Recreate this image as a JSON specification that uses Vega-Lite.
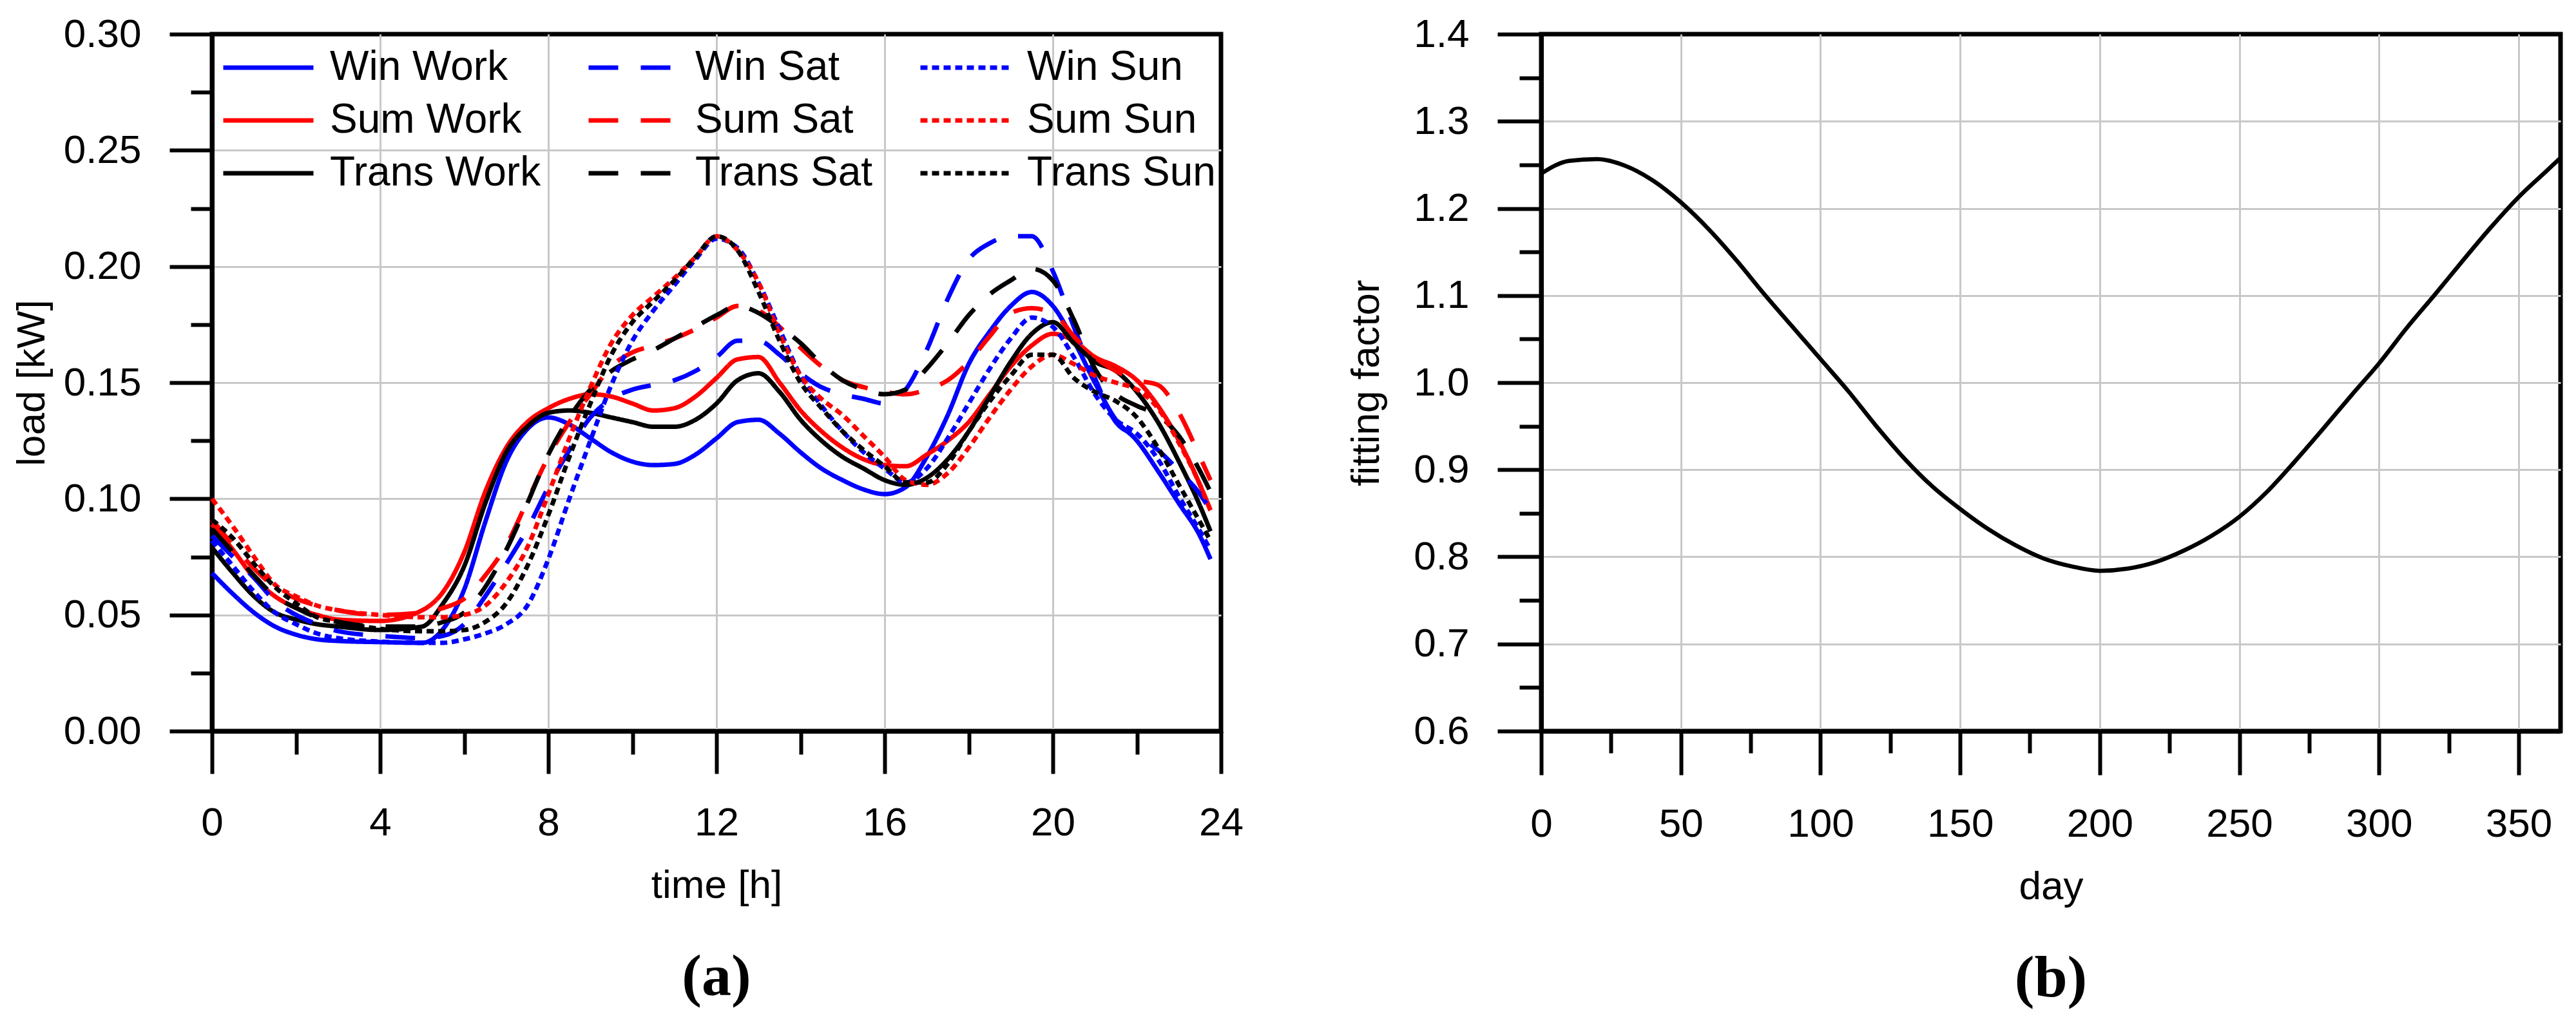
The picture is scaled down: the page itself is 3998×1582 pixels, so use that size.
{
  "$schema": "https://vega.github.io/schema/vega-lite/v6.json",
  "background": "white",
  "padding": {"left": 14, "top": 18, "right": 0, "bottom": 0},
  "spacing": 153,
  "config": {
    "font": "Liberation Sans",
    "view": {"stroke": "black", "strokeWidth": 7},
    "axis": {
      "domainColor": "black",
      "domainWidth": 7,
      "tickColor": "black",
      "tickWidth": 6,
      "labelFont": "Liberation Sans",
      "labelFontSize": 62,
      "labelColor": "black",
      "labelFlush": false,
      "labelOverlap": false,
      "labelPadding": 44,
      "titleFont": "Liberation Sans",
      "titleFontSize": 62,
      "titleFontWeight": "normal",
      "titleColor": "black",
      "gridColor": "#c8c8c8",
      "gridWidth": 3
    },
    "title": {"font": "Liberation Serif", "fontWeight": "bold", "fontSize": 92, "color": "black"}
  },
  "hconcat": [
    {
      "width": 1566,
      "height": 1082,
      "title": {"text": "(a)", "orient": "bottom", "offset": 67},
      "data": {
        "values": [
          {"t": 0, "Win Work": 0.068, "Sum Work": 0.089, "Trans Work": 0.079, "Win Sat": 0.084, "Sum Sat": 0.091, "Trans Sat": 0.087, "Win Sun": 0.082, "Sum Sun": 0.100, "Trans Sun": 0.091},
          {"t": 0.5, "Win Work": 0.059, "Sum Work": 0.078, "Trans Work": 0.068, "Win Sat": 0.075, "Sum Sat": 0.080, "Trans Sat": 0.077, "Win Sun": 0.071, "Sum Sun": 0.088, "Trans Sun": 0.083},
          {"t": 1, "Win Work": 0.051, "Sum Work": 0.066, "Trans Work": 0.058, "Win Sat": 0.066, "Sum Sat": 0.070, "Trans Sat": 0.067, "Win Sun": 0.060, "Sum Sun": 0.075, "Trans Sun": 0.072},
          {"t": 1.5, "Win Work": 0.045, "Sum Work": 0.058, "Trans Work": 0.051, "Win Sat": 0.056, "Sum Sat": 0.062, "Trans Sat": 0.058, "Win Sun": 0.051, "Sum Sun": 0.063, "Trans Sun": 0.062},
          {"t": 2, "Win Work": 0.0415, "Sum Work": 0.053, "Trans Work": 0.048, "Win Sat": 0.050, "Sum Sat": 0.057, "Trans Sat": 0.053, "Win Sun": 0.046, "Sum Sun": 0.058, "Trans Sun": 0.055},
          {"t": 2.5, "Win Work": 0.0395, "Sum Work": 0.050, "Trans Work": 0.046, "Win Sat": 0.046, "Sum Sat": 0.054, "Trans Sat": 0.049, "Win Sun": 0.042, "Sum Sun": 0.054, "Trans Sun": 0.049},
          {"t": 3, "Win Work": 0.0388, "Sum Work": 0.048, "Trans Work": 0.045, "Win Sat": 0.043, "Sum Sat": 0.052, "Trans Sat": 0.047, "Win Sun": 0.040, "Sum Sun": 0.052, "Trans Sun": 0.047},
          {"t": 4, "Win Work": 0.0383, "Sum Work": 0.0474, "Trans Work": 0.0435, "Win Sat": 0.041, "Sum Sat": 0.050, "Trans Sat": 0.045, "Win Sun": 0.0385, "Sum Sun": 0.050, "Trans Sun": 0.044},
          {"t": 5, "Win Work": 0.038, "Sum Work": 0.052, "Trans Work": 0.045, "Win Sat": 0.040, "Sum Sat": 0.051, "Trans Sat": 0.045, "Win Sun": 0.038, "Sum Sun": 0.049, "Trans Sun": 0.043},
          {"t": 5.5, "Win Work": 0.044, "Sum Work": 0.060, "Trans Work": 0.055, "Win Sat": 0.041, "Sum Sat": 0.053, "Trans Sat": 0.047, "Win Sun": 0.038, "Sum Sun": 0.049, "Trans Sun": 0.043},
          {"t": 6, "Win Work": 0.061, "Sum Work": 0.077, "Trans Work": 0.071, "Win Sat": 0.046, "Sum Sat": 0.057, "Trans Sat": 0.051, "Win Sun": 0.0395, "Sum Sun": 0.050, "Trans Sun": 0.0435},
          {"t": 6.5, "Win Work": 0.090, "Sum Work": 0.103, "Trans Work": 0.098, "Win Sat": 0.058, "Sum Sat": 0.067, "Trans Sat": 0.062, "Win Sun": 0.042, "Sum Sun": 0.054, "Trans Sun": 0.047},
          {"t": 7, "Win Work": 0.116, "Sum Work": 0.122, "Trans Work": 0.120, "Win Sat": 0.072, "Sum Sat": 0.080, "Trans Sat": 0.078, "Win Sun": 0.046, "Sum Sun": 0.064, "Trans Sun": 0.055},
          {"t": 7.5, "Win Work": 0.130, "Sum Work": 0.133, "Trans Work": 0.131, "Win Sat": 0.087, "Sum Sat": 0.099, "Trans Sat": 0.098, "Win Sun": 0.054, "Sum Sun": 0.079, "Trans Sun": 0.071},
          {"t": 8, "Win Work": 0.135, "Sum Work": 0.139, "Trans Work": 0.137, "Win Sat": 0.105, "Sum Sat": 0.118, "Trans Sat": 0.119, "Win Sun": 0.074, "Sum Sun": 0.102, "Trans Sun": 0.093},
          {"t": 8.5, "Win Work": 0.132, "Sum Work": 0.143, "Trans Work": 0.138, "Win Sat": 0.121, "Sum Sat": 0.133, "Trans Sat": 0.135, "Win Sun": 0.100, "Sum Sun": 0.126, "Trans Sun": 0.118},
          {"t": 9, "Win Work": 0.126, "Sum Work": 0.145, "Trans Work": 0.137, "Win Sat": 0.135, "Sum Sat": 0.145, "Trans Sat": 0.147, "Win Sun": 0.125, "Sum Sun": 0.148, "Trans Sun": 0.141},
          {"t": 9.5, "Win Work": 0.120, "Sum Work": 0.144, "Trans Work": 0.135, "Win Sat": 0.143, "Sum Sat": 0.157, "Trans Sat": 0.155, "Win Sun": 0.149, "Sum Sun": 0.167, "Trans Sun": 0.162},
          {"t": 10, "Win Work": 0.116, "Sum Work": 0.141, "Trans Work": 0.133, "Win Sat": 0.147, "Sum Sat": 0.163, "Trans Sat": 0.160, "Win Sun": 0.168, "Sum Sun": 0.179, "Trans Sun": 0.176},
          {"t": 10.5, "Win Work": 0.1145, "Sum Work": 0.138, "Trans Work": 0.131, "Win Sat": 0.149, "Sum Sat": 0.166, "Trans Sat": 0.164, "Win Sun": 0.181, "Sum Sun": 0.187, "Trans Sun": 0.185},
          {"t": 11, "Win Work": 0.115, "Sum Work": 0.139, "Trans Work": 0.131, "Win Sat": 0.151, "Sum Sat": 0.169, "Trans Sat": 0.169, "Win Sun": 0.192, "Sum Sun": 0.195, "Trans Sun": 0.194},
          {"t": 11.5, "Win Work": 0.119, "Sum Work": 0.144, "Trans Work": 0.134, "Win Sat": 0.155, "Sum Sat": 0.173, "Trans Sat": 0.174, "Win Sun": 0.203, "Sum Sun": 0.204, "Trans Sun": 0.204},
          {"t": 12, "Win Work": 0.126, "Sum Work": 0.152, "Trans Work": 0.141, "Win Sat": 0.161, "Sum Sat": 0.178, "Trans Sat": 0.179, "Win Sun": 0.212, "Sum Sun": 0.213, "Trans Sun": 0.213},
          {"t": 12.5, "Win Work": 0.133, "Sum Work": 0.160, "Trans Work": 0.151, "Win Sat": 0.168, "Sum Sat": 0.183, "Trans Sat": 0.183, "Win Sun": 0.208, "Sum Sun": 0.207, "Trans Sun": 0.207},
          {"t": 13, "Win Work": 0.134, "Sum Work": 0.161, "Trans Work": 0.154, "Win Sat": 0.168, "Sum Sat": 0.181, "Trans Sat": 0.180, "Win Sun": 0.193, "Sum Sun": 0.193, "Trans Sun": 0.189},
          {"t": 13.5, "Win Work": 0.128, "Sum Work": 0.150, "Trans Work": 0.146, "Win Sat": 0.162, "Sum Sat": 0.174, "Trans Sat": 0.174, "Win Sun": 0.173, "Sum Sun": 0.171, "Trans Sun": 0.168},
          {"t": 14, "Win Work": 0.120, "Sum Work": 0.138, "Trans Work": 0.134, "Win Sat": 0.154, "Sum Sat": 0.165, "Trans Sat": 0.167, "Win Sun": 0.153, "Sum Sun": 0.153, "Trans Sun": 0.150},
          {"t": 14.5, "Win Work": 0.113, "Sum Work": 0.129, "Trans Work": 0.125, "Win Sat": 0.148, "Sum Sat": 0.157, "Trans Sat": 0.158, "Win Sun": 0.140, "Sum Sun": 0.143, "Trans Sun": 0.139},
          {"t": 15, "Win Work": 0.108, "Sum Work": 0.122, "Trans Work": 0.118, "Win Sat": 0.145, "Sum Sat": 0.151, "Trans Sat": 0.151, "Win Sun": 0.129, "Sum Sun": 0.136, "Trans Sun": 0.129},
          {"t": 15.5, "Win Work": 0.104, "Sum Work": 0.117, "Trans Work": 0.113, "Win Sat": 0.143, "Sum Sat": 0.148, "Trans Sat": 0.147, "Win Sun": 0.120, "Sum Sun": 0.127, "Trans Sun": 0.121},
          {"t": 16, "Win Work": 0.102, "Sum Work": 0.1145, "Trans Work": 0.108, "Win Sat": 0.141, "Sum Sat": 0.146, "Trans Sat": 0.145, "Win Sun": 0.113, "Sum Sun": 0.118, "Trans Sun": 0.114},
          {"t": 16.5, "Win Work": 0.105, "Sum Work": 0.114, "Trans Work": 0.106, "Win Sat": 0.147, "Sum Sat": 0.145, "Trans Sat": 0.147, "Win Sun": 0.107, "Sum Sun": 0.108, "Trans Sun": 0.107},
          {"t": 17, "Win Work": 0.118, "Sum Work": 0.119, "Trans Work": 0.109, "Win Sat": 0.164, "Sum Sat": 0.147, "Trans Sat": 0.156, "Win Sun": 0.113, "Sum Sun": 0.106, "Trans Sun": 0.107},
          {"t": 17.5, "Win Work": 0.136, "Sum Work": 0.125, "Trans Work": 0.117, "Win Sat": 0.186, "Sum Sat": 0.151, "Trans Sat": 0.167, "Win Sun": 0.126, "Sum Sun": 0.111, "Trans Sun": 0.115},
          {"t": 18, "Win Work": 0.158, "Sum Work": 0.133, "Trans Work": 0.129, "Win Sat": 0.203, "Sum Sat": 0.159, "Trans Sat": 0.179, "Win Sun": 0.141, "Sum Sun": 0.122, "Trans Sun": 0.129},
          {"t": 18.5, "Win Work": 0.172, "Sum Work": 0.145, "Trans Work": 0.144, "Win Sat": 0.210, "Sum Sat": 0.170, "Trans Sat": 0.188, "Win Sun": 0.156, "Sum Sun": 0.135, "Trans Sun": 0.142},
          {"t": 19, "Win Work": 0.183, "Sum Work": 0.157, "Trans Work": 0.159, "Win Sat": 0.213, "Sum Sat": 0.180, "Trans Sat": 0.194, "Win Sun": 0.169, "Sum Sun": 0.147, "Trans Sun": 0.153},
          {"t": 19.5, "Win Work": 0.189, "Sum Work": 0.166, "Trans Work": 0.171, "Win Sat": 0.213, "Sum Sat": 0.182, "Trans Sat": 0.199, "Win Sun": 0.178, "Sum Sun": 0.157, "Trans Sun": 0.162},
          {"t": 20, "Win Work": 0.183, "Sum Work": 0.171, "Trans Work": 0.176, "Win Sat": 0.198, "Sum Sat": 0.180, "Trans Sat": 0.194, "Win Sun": 0.174, "Sum Sun": 0.162, "Trans Sun": 0.162},
          {"t": 20.5, "Win Work": 0.168, "Sum Work": 0.168, "Trans Work": 0.167, "Win Sat": 0.174, "Sum Sat": 0.170, "Trans Sat": 0.177, "Win Sun": 0.161, "Sum Sun": 0.158, "Trans Sun": 0.152},
          {"t": 21, "Win Work": 0.150, "Sum Work": 0.161, "Trans Work": 0.159, "Win Sat": 0.152, "Sum Sat": 0.161, "Trans Sat": 0.156, "Win Sun": 0.145, "Sum Sun": 0.153, "Trans Sun": 0.146},
          {"t": 21.5, "Win Work": 0.134, "Sum Work": 0.157, "Trans Work": 0.155, "Win Sat": 0.133, "Sum Sat": 0.155, "Trans Sat": 0.145, "Win Sun": 0.134, "Sum Sun": 0.150, "Trans Sun": 0.142},
          {"t": 22, "Win Work": 0.125, "Sum Work": 0.151, "Trans Work": 0.146, "Win Sat": 0.127, "Sum Sat": 0.151, "Trans Sat": 0.140, "Win Sun": 0.128, "Sum Sun": 0.147, "Trans Sun": 0.135},
          {"t": 22.5, "Win Work": 0.112, "Sum Work": 0.140, "Trans Work": 0.133, "Win Sat": 0.121, "Sum Sat": 0.149, "Trans Sat": 0.136, "Win Sun": 0.117, "Sum Sun": 0.139, "Trans Sun": 0.122},
          {"t": 23, "Win Work": 0.098, "Sum Work": 0.125, "Trans Work": 0.116, "Win Sat": 0.112, "Sum Sat": 0.137, "Trans Sat": 0.127, "Win Sun": 0.101, "Sum Sun": 0.124, "Trans Sun": 0.106},
          {"t": 23.5, "Win Work": 0.084, "Sum Work": 0.106, "Trans Work": 0.097, "Win Sat": 0.102, "Sum Sat": 0.118, "Trans Sat": 0.112, "Win Sun": 0.086, "Sum Sun": 0.106, "Trans Sun": 0.090},
          {"t": 23.75, "Win Work": 0.074, "Sum Work": 0.095, "Trans Work": 0.086, "Win Sat": 0.095, "Sum Sat": 0.108, "Trans Sat": 0.103, "Win Sun": 0.078, "Sum Sun": 0.095, "Trans Sun": 0.082}
        ]
      },
      "transform": [
        {
          "fold": ["Win Work", "Sum Work", "Trans Work", "Win Sat", "Sum Sat", "Trans Sat", "Win Sun", "Sum Sun", "Trans Sun"],
          "as": ["series", "load"]
        }
      ],
      "mark": {"type": "line", "interpolate": "monotone", "strokeWidth": 7, "strokeCap": "butt"},
      "encoding": {
        "x": {
          "field": "t",
          "type": "quantitative",
          "scale": {"domain": [0, 24], "nice": false},
          "axis": {
            "title": "time [h]",
            "values": [0, 2, 4, 6, 8, 10, 12, 14, 16, 18, 20, 22, 24],
            "labelExpr": "datum.value % 4 == 0 ? datum.label : ''",
            "tickSize": {"condition": {"test": "datum.value % 4 == 0", "value": 66}, "value": 36},
            "grid": true,
            "gridOpacity": {"condition": {"test": "datum.value % 4 == 0 && datum.value > 0 && datum.value < 24", "value": 1}, "value": 0},
            "labelPadding": 46,
            "titlePadding": 36
          }
        },
        "y": {
          "field": "load",
          "type": "quantitative",
          "scale": {"domain": [0, 0.3], "nice": false, "zero": false},
          "axis": {
            "title": "load [kW]",
            "values": [0, 0.025, 0.05, 0.075, 0.1, 0.125, 0.15, 0.175, 0.2, 0.225, 0.25, 0.275, 0.3],
            "labelExpr": "round(datum.value * 1000) % 50 == 0 ? format(datum.value, '.2f') : ''",
            "tickSize": {"condition": {"test": "round(datum.value * 1000) % 50 == 0", "value": 66}, "value": 33},
            "grid": true,
            "gridOpacity": {"condition": {"test": "round(datum.value * 1000) % 50 == 0 && datum.value > 0 && datum.value < 0.29", "value": 1}, "value": 0},
            "titlePadding": 48
          }
        },
        "color": {
          "field": "series",
          "type": "nominal",
          "scale": {
            "domain": ["Win Work", "Sum Work", "Trans Work", "Win Sat", "Sum Sat", "Trans Sat", "Win Sun", "Sum Sun", "Trans Sun"],
            "range": ["#0000ff", "#ff0000", "#000000", "#0000ff", "#ff0000", "#000000", "#0000ff", "#ff0000", "#000000"]
          },
          "legend": {
            "title": null, "orient": "none", "legendX": 14, "legendY": 20,
            "columns": 3, "columnPadding": 70, "rowPadding": 18, "padding": 0, "clipHeight": 64,
            "symbolType": "stroke", "symbolSize": 19600, "symbolStrokeWidth": 7,
            "labelFont": "Liberation Sans", "labelFontSize": 64, "labelColor": "black", "labelOffset": 22, "labelLimit": 0
          }
        },
        "strokeDash": {
          "field": "series",
          "type": "nominal",
          "scale": {
            "domain": ["Win Work", "Sum Work", "Trans Work", "Win Sat", "Sum Sat", "Trans Sat", "Win Sun", "Sum Sun", "Trans Sun"],
            "range": [[1, 0], [1, 0], [1, 0], [46, 35], [46, 35], [46, 35], [11, 7], [11, 7], [11, 7]]
          },
          "legend": {
            "title": null, "orient": "none", "legendX": 14, "legendY": 20,
            "columns": 3, "columnPadding": 70, "rowPadding": 18, "padding": 0, "clipHeight": 64,
            "symbolType": "stroke", "symbolSize": 19600, "symbolStrokeWidth": 7,
            "labelFont": "Liberation Sans", "labelFontSize": 64, "labelColor": "black", "labelOffset": 22, "labelLimit": 0
          }
        }
      }
    },
    {
      "width": 1582,
      "height": 1082,
      "title": {"text": "(b)", "orient": "bottom", "offset": 67},
      "data": {
        "values": [
          {"day": 0, "factor": 1.240}, {"day": 10, "factor": 1.2545}, {"day": 20, "factor": 1.2565},
          {"day": 30, "factor": 1.249}, {"day": 40, "factor": 1.232}, {"day": 50, "factor": 1.207},
          {"day": 60, "factor": 1.176}, {"day": 70, "factor": 1.140}, {"day": 80, "factor": 1.101},
          {"day": 90, "factor": 1.064}, {"day": 100, "factor": 1.027}, {"day": 110, "factor": 0.990},
          {"day": 120, "factor": 0.950}, {"day": 130, "factor": 0.913}, {"day": 140, "factor": 0.881},
          {"day": 150, "factor": 0.855}, {"day": 160, "factor": 0.832}, {"day": 170, "factor": 0.813},
          {"day": 180, "factor": 0.798}, {"day": 190, "factor": 0.789}, {"day": 200, "factor": 0.784},
          {"day": 210, "factor": 0.7865}, {"day": 220, "factor": 0.794}, {"day": 230, "factor": 0.807},
          {"day": 240, "factor": 0.824}, {"day": 250, "factor": 0.846}, {"day": 260, "factor": 0.875},
          {"day": 270, "factor": 0.910}, {"day": 280, "factor": 0.947}, {"day": 290, "factor": 0.985},
          {"day": 300, "factor": 1.022}, {"day": 310, "factor": 1.063}, {"day": 320, "factor": 1.101},
          {"day": 330, "factor": 1.140}, {"day": 340, "factor": 1.178}, {"day": 350, "factor": 1.213},
          {"day": 360, "factor": 1.243}, {"day": 365, "factor": 1.258}
        ]
      },
      "mark": {"type": "line", "interpolate": "monotone", "strokeWidth": 6.5, "color": "black"},
      "encoding": {
        "x": {
          "field": "day",
          "type": "quantitative",
          "scale": {"domain": [0, 365], "nice": false},
          "axis": {
            "title": "day",
            "values": [0, 25, 50, 75, 100, 125, 150, 175, 200, 225, 250, 275, 300, 325, 350],
            "labelExpr": "datum.value % 50 == 0 ? datum.label : ''",
            "tickSize": {"condition": {"test": "datum.value % 50 == 0", "value": 68}, "value": 34},
            "grid": true,
            "gridOpacity": {"condition": {"test": "datum.value % 50 == 0 && datum.value > 0", "value": 1}, "value": 0},
            "labelPadding": 46,
            "titlePadding": 36
          }
        },
        "y": {
          "field": "factor",
          "type": "quantitative",
          "scale": {"domain": [0.6, 1.4], "nice": false, "zero": false},
          "axis": {
            "title": "fitting factor",
            "values": [0.6, 0.65, 0.7, 0.75, 0.8, 0.85, 0.9, 0.95, 1.0, 1.05, 1.1, 1.15, 1.2, 1.25, 1.3, 1.35, 1.4],
            "labelExpr": "round(datum.value * 100) % 10 == 0 ? format(datum.value, '.1f') : ''",
            "tickSize": {"condition": {"test": "round(datum.value * 100) % 10 == 0", "value": 68}, "value": 34},
            "grid": true,
            "gridOpacity": {"condition": {"test": "round(datum.value * 100) % 10 == 0 && datum.value > 0.65 && datum.value < 1.35", "value": 1}, "value": 0},
            "titlePadding": 41
          }
        }
      }
    }
  ]
}
